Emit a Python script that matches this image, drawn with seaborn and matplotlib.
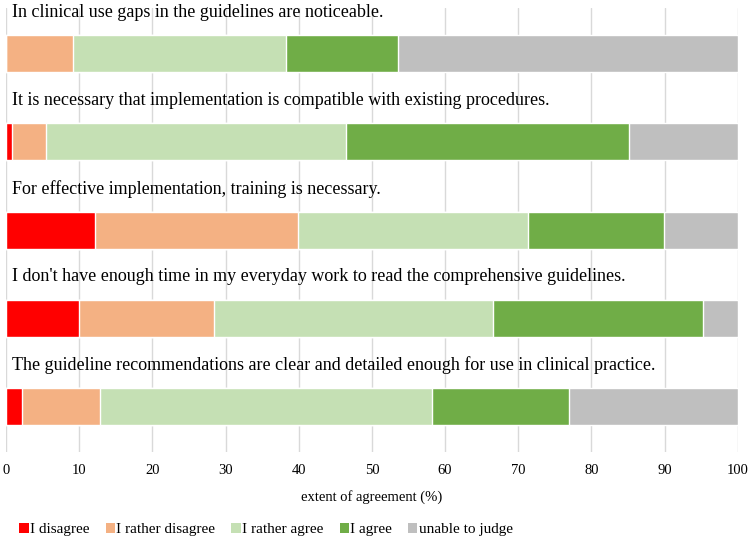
import numpy as np
import pandas as pd
import matplotlib.pyplot as plt
import seaborn as sns
from matplotlib.patches import Patch

statements = [
    "In clinical use gaps in the guidelines are noticeable.",
    "It is necessary that implementation is compatible with existing procedures.",
    "For effective implementation, training is necessary.",
    "I don't have enough time in my everyday work to read the comprehensive guidelines.",
    "The guideline recommendations are clear and detailed enough for use in clinical practice.",
]
categories = ["I disagree", "I rather disagree", "I rather agree", "I agree", "unable to judge"]

disagree = [0.0, 0.8, 12.1, 10.0, 2.2]
rather_disagree = [9.1, 4.6, 27.8, 18.4, 10.7]
rather_agree = [29.2, 41.0, 31.4, 38.2, 45.3]
agree = [15.3, 38.8, 18.6, 28.6, 18.7]
unable = [46.4, 14.8, 10.1, 4.8, 23.1]

colors = ["#FF0000", "#F4B183", "#C5E0B4", "#70AD47", "#BFBFBF"]

sns.set_style("white")
plt.rcParams["font.family"] = ["Liberation Serif", "DejaVu Serif"]
plt.rcParams["text.color"] = "black"
plt.rcParams["axes.labelcolor"] = "black"
plt.rcParams["xtick.color"] = "black"

df = pd.DataFrame({
    "statement": statements,
    categories[0]: disagree,
    categories[1]: rather_disagree,
    categories[2]: rather_agree,
    categories[3]: agree,
    categories[4]: unable,
})
cum = df[categories].cumsum(axis=1)

fig = plt.figure(figsize=(7.49, 5.4), dpi=100)
ax = fig.add_axes([0.008, 0.163, 0.977, 0.822])

# draw the stacked bars from the outermost layer inward
for cat, col in zip(categories[::-1], colors[::-1]):
    sns.barplot(x=cum[cat], y=df["statement"], orient="h", color=col,
                width=0.42, saturation=1, ax=ax, zorder=2)

ax.set_xlim(0, 100)
ax.set_ylim(4.515, -0.515)
ax.set_xticks(np.arange(0, 101, 10))
ax.xaxis.grid(True, color="#D9D9D9", linewidth=1, zorder=0)
ax.set_axisbelow(True)
ax.set_yticks([])
ax.set_ylabel("")
ax.tick_params(axis="x", length=0, labelsize=10.5, pad=9)
ax.set_xlabel("extent of agreement (%)", fontsize=10.5, labelpad=9)
for s in ax.spines.values():
    s.set_visible(False)

for i, txt in enumerate(statements):
    ax.text(0.8, i - 0.47, txt, va="center", ha="left", fontsize=13, clip_on=False)

handles = [Patch(facecolor=c, edgecolor="none") for c in colors]
fig.legend(handles, categories, loc="center left", bbox_to_anchor=(0.026, 0.019),
           ncol=5, frameon=False, fontsize=11, handlelength=0.6, handleheight=0.6,
           handletextpad=0.1, columnspacing=1.05, borderpad=0, borderaxespad=0)

fig.savefig("out.png", dpi=100)
